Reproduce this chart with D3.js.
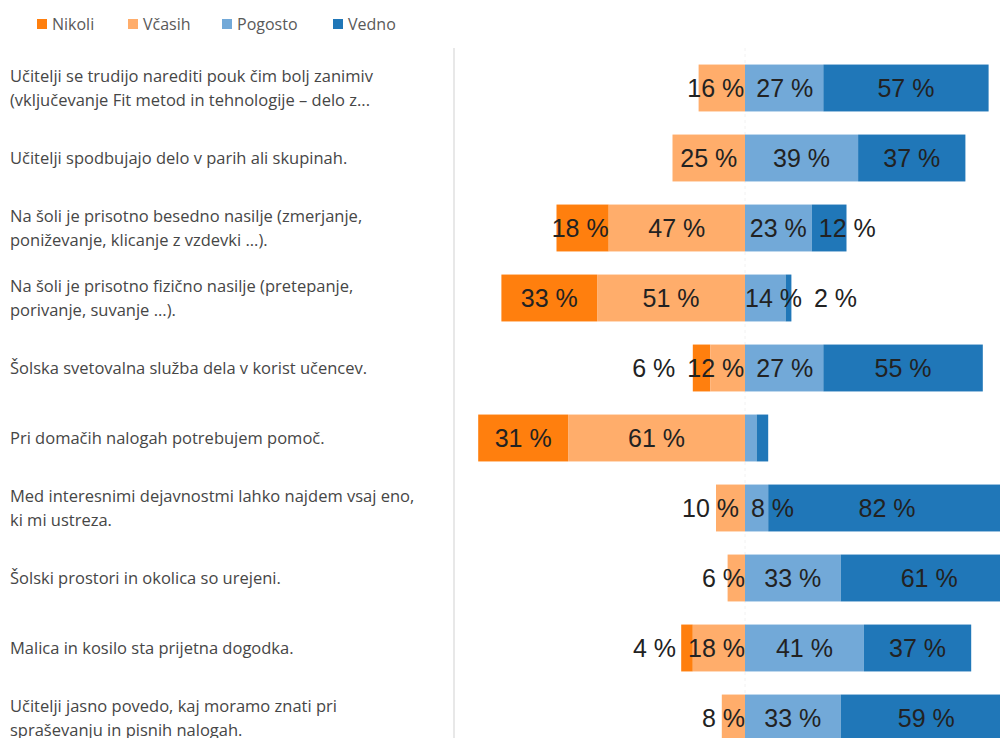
<!DOCTYPE html>
<html>
<head>
<meta charset="utf-8">
<script src="https://cdn.jsdelivr.net/npm/d3@7"></script>
<style>
  html, body { margin: 0; padding: 0; background: #fff; }
  svg { display: block; }
</style>
</head>
<body>
<svg id="chart" width="1000" height="738"></svg>
<script>
// ---- data ----
const categories = [
  ["Učitelji se trudijo narediti pouk čim bolj zanimiv", "(vključevanje Fit metod in tehnologije – delo z..."],
  ["Učitelji spodbujajo delo v parih ali skupinah."],
  ["Na šoli je prisotno besedno nasilje (zmerjanje,", "poniževanje, klicanje z vzdevki ...)."],
  ["Na šoli je prisotno fizično nasilje (pretepanje,", "porivanje, suvanje ...)."],
  ["Šolska svetovalna služba dela v korist učencev."],
  ["Pri domačih nalogah potrebujem pomoč."],
  ["Med interesnimi dejavnostmi lahko najdem vsaj eno,", "ki mi ustreza."],
  ["Šolski prostori in okolica so urejeni."],
  ["Malica in kosilo sta prijetna dogodka."],
  ["Učitelji jasno povedo, kaj moramo znati pri", "spraševanju in pisnih nalogah."]
];
const seriesNames = ["Nikoli", "Včasih", "Pogosto", "Vedno"];
const nikoli  = [0, 0, 18, 33, 6, 31, 0, 0, 4, 0];
const vcasih  = [16, 25, 47, 51, 12, 61, 10, 6, 18, 8];
const pogosto = [27, 39, 23, 14, 27, 4, 8, 33, 41, 33];
const vedno   = [57, 37, 12, 2, 55, 4, 82, 61, 37, 59];
// segments drawn without a value label (row index, series)
const unlabelled = [[5, "Pogosto"], [5, "Vedno"]];

// ---- styles ----
const colors = { "Nikoli": "#ff7f0e", "Včasih": "#ffad6b", "Pogosto": "#72a9d8", "Vedno": "#2077b8" };

const svg = d3.select("#chart");
const x = d3.scaleLinear().domain([-100, 100]).range([455, 1035]);
const y = d3.scaleBand().domain(d3.range(categories.length)).range([53, 753])
  .paddingInner(0.33).paddingOuter(0.165);

// legend
const legend = svg.append("g").attr("transform", "translate(37,24)");
const legX = [0, 91, 185, 296];
seriesNames.forEach((s, i) => {
  const g = legend.append("g").attr("transform", `translate(${legX[i]},0)`);
  g.append("rect").attr("x", 0).attr("y", -5).attr("width", 10).attr("height", 10).attr("fill", colors[s]);
  g.append("text").attr("x", 15).attr("dy", "0.35em")
    .attr("font-family", "'Open Sans', 'Noto Sans', sans-serif").attr("font-size", 16)
    .attr("fill", "#595959").text(s);
});

// axis lines
svg.append("line").attr("x1", x(-100) - 1).attr("x2", x(-100) - 1).attr("y1", 48).attr("y2", 738)
  .attr("stroke", "#e8e8e8").attr("stroke-width", 2);
svg.append("line").attr("x1", x(0)).attr("x2", x(0)).attr("y1", 48).attr("y2", 738)
  .attr("stroke", "#f2f2f2").attr("stroke-width", 1).attr("stroke-dasharray", "3,3");

// category labels
const catG = svg.append("g");
categories.forEach((lines, i) => {
  const cy = y(i) + y.bandwidth() / 2;
  const t = catG.append("text")
    .attr("font-family", "'Open Sans', 'Noto Sans', sans-serif").attr("font-size", 16.5)
    .attr("fill", "#464646");
  const lh = 24;
  lines.forEach((ln, j) => {
    t.append("tspan").attr("x", 10)
      .attr("y", cy + (j - (lines.length - 1) / 2) * lh)
      .attr("dy", "0.35em").text(ln);
  });
});

// build segments
const rows = categories.map((c, i) => [
  { s: "Nikoli", v: nikoli[i], x0: -(vcasih[i] + nikoli[i]), x1: -vcasih[i], side: -1 },
  { s: "Včasih", v: vcasih[i], x0: -vcasih[i], x1: 0, side: -1 },
  { s: "Pogosto", v: pogosto[i], x0: 0, x1: pogosto[i], side: 1 },
  { s: "Vedno", v: vedno[i], x0: pogosto[i], x1: pogosto[i] + vedno[i], side: 1 }
]);

const barG = svg.append("g");
const labG = svg.append("g");
rows.forEach((segs, i) => {
  barG.selectAll(null).data(segs.filter(d => d.v > 0)).join("rect")
    .attr("x", d => x(d.x0)).attr("width", d => x(d.x1) - x(d.x0))
    .attr("y", y(i)).attr("height", y.bandwidth())
    .attr("fill", d => colors[d.s]);

  const cy = y(i) + y.bandwidth() / 2;
  const labs = segs.filter(d => d.v > 0 && !unlabelled.some(u => u[0] === i && u[1] === d.s))
    .map(d => {
      const t = labG.append("text")
        .attr("font-family", "'Liberation Sans', Arial, sans-serif").attr("font-size", 25)
        .attr("fill", "#222").attr("text-anchor", "middle").attr("dy", "0.35em")
        .attr("y", cy).text(d.v + " %");
      const w = t.node().getComputedTextLength();
      const a = x(d.x0), b = x(d.x1);
      let c = (a + b) / 2;
      // label wider than its segment: align with the segment's inner edge
      if (w > b - a) c = d.side < 0 ? b - w / 2 : a + w / 2;
      return { d, t, c, w };
    });
  const gap = 12;
  const left = labs.filter(l => l.d.side < 0).sort((a, b) => b.c - a.c);  // inner first
  const right = labs.filter(l => l.d.side > 0).sort((a, b) => a.c - b.c); // inner first
  const cascade = () => {
    for (let k = 1; k < left.length; k++) {
      const inner = left[k - 1], outer = left[k];
      const lim = inner.c - inner.w / 2 - gap;
      if (outer.c + outer.w / 2 > lim) outer.c = lim - outer.w / 2;
    }
    for (let k = 1; k < right.length; k++) {
      const inner = right[k - 1], outer = right[k];
      const lim = inner.c + inner.w / 2 + gap;
      if (outer.c - outer.w / 2 < lim) outer.c = lim + outer.w / 2;
    }
  };
  cascade();
  if (left.length && right.length) {
    const a = left[0], b = right[0];
    const ov = (a.c + a.w / 2 + gap) - (b.c - b.w / 2);
    if (ov > 0) { a.c -= ov / 2; b.c += ov / 2; cascade(); }
  }
  labs.forEach(l => l.t.attr("x", l.c));
});
</script>
</body>
</html>
